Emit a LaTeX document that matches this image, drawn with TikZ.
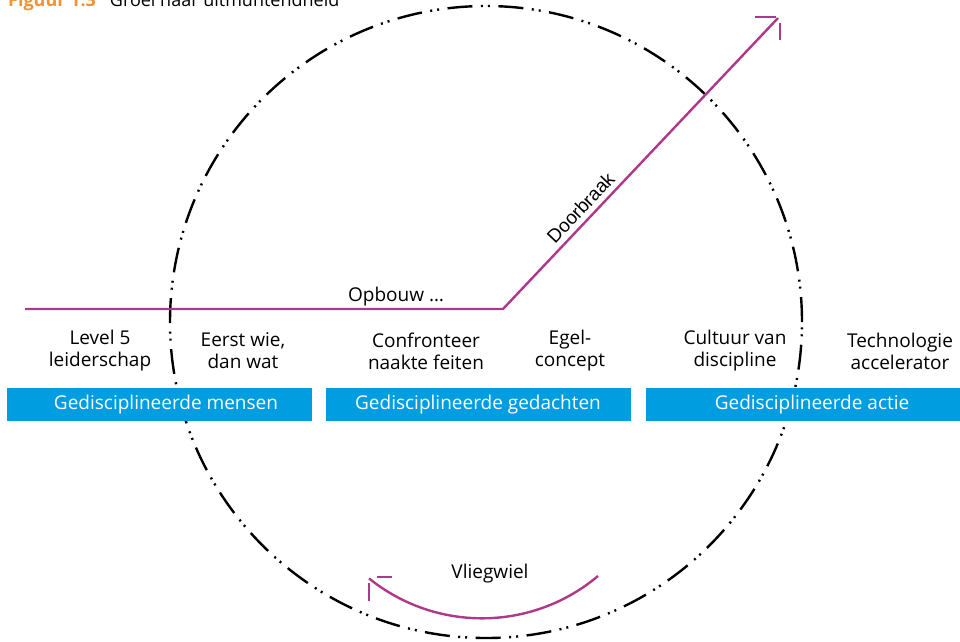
\documentclass[tikz,border=0pt]{standalone}
\usepackage{fontspec}
\setmainfont{Open Sans}
\newfontfamily\arialfont{Liberation Sans}
\definecolor{boxblue}{HTML}{009EE0}
\definecolor{magline}{HTML}{B0388A}
\definecolor{figorange}{HTML}{F39233}
\tikzset{
  lbl/.style={align=center, font=\fontsize{19}{22}\selectfont, inner sep=0pt},
  bluebox/.style={fill=boxblue, draw=none},
  boxtxt/.style={text=white, font=\fontsize{19}{22}\selectfont, inner sep=0pt},
  magstroke/.style={draw=magline, line width=2.4pt},
  wheel/.style={draw=black, line width=2.4pt, dash pattern=on 25pt off 8.5pt on 2pt off 5pt on 2pt off 8.5pt},
}
\begin{document}
\begin{tikzpicture}[x=1pt,y=-1pt]
\useasboundingbox (0,0) rectangle (960,641);
% circle
\draw[wheel] (486,322) circle[radius=316pt];
% boxes
\fill[bluebox] (7,388) rectangle (312,421);
\fill[bluebox] (326,388) rectangle (631,421);
\fill[bluebox] (646,388) rectangle (960,421);
\node[boxtxt] (b1) at (166,405) {Gedisciplineerde mensen};
\node[boxtxt] (b2) at (478,405) {Gedisciplineerde gedachten};
\node[boxtxt] (b3) at (812,405) {Gedisciplineerde actie};
% labels
\node[lbl] (l1) at (100,351) {Level 5\\leiderschap};
\node[lbl] (l2) at (243,351) {Eerst wie,\\dan wat};
\node[lbl] (l3) at (426,351) {Confronteer\\naakte feiten};
\node[lbl] (l4) at (570,351) {Egel-\\concept};
\node[lbl] (l5) at (735,351) {Cultuur van\\discipline};
\node[lbl] (l6) at (900,351) {Technologie\\accelerator};
% growth line
\coordinate (gs) at (25,309);
\coordinate (gk) at (503,309);
\coordinate (ge) at (778,18);
\draw[magstroke, line join=miter] (gs) -- (gk) -- (ge);
\coordinate (ha1) at (755,17);
\coordinate (ha2) at (776,17);
\coordinate (hb1) at (780,23);
\coordinate (hb2) at (780,40);
\draw[magstroke] (ha1) -- (ha2);
\draw[magstroke] (hb1) -- (hb2);
\node[font=\fontsize{19}{22}\selectfont, anchor=base, inner sep=0pt] (opb) at (396,301) {Opbouw …};
\path (gk) -- (ge) node[pos=0.317, sloped, above=6pt, inner sep=0pt, font=\arialfont\fontsize{19}{22}\selectfont] (door) {Doorbraak};
% flywheel arrow
\coordinate (fs) at (598,576);
\draw[magstroke] (fs) arc[start angle=-49.9, end angle=-128.9, radius=180pt] coordinate (fe);
\coordinate (fa1) at (377,577);
\coordinate (fa2) at (392,577);
\coordinate (fb1) at (369,583);
\coordinate (fb2) at (369,601);
\draw[magstroke] (fa1) -- (fa2);
\draw[magstroke] (fb1) -- (fb2);
\node[font=\fontsize{19}{22}\selectfont, inner sep=0pt] (vlieg) at (490,574) {Vliegwiel};
% title
\node[anchor=base west, inner sep=0pt, font=\fontsize{18}{20}\selectfont] (title) at (8,6) {\textcolor{figorange}{\bfseries Figuur 1.3}\hspace{14pt}Groei naar uitmuntendheid};
\end{tikzpicture}
\end{document}
